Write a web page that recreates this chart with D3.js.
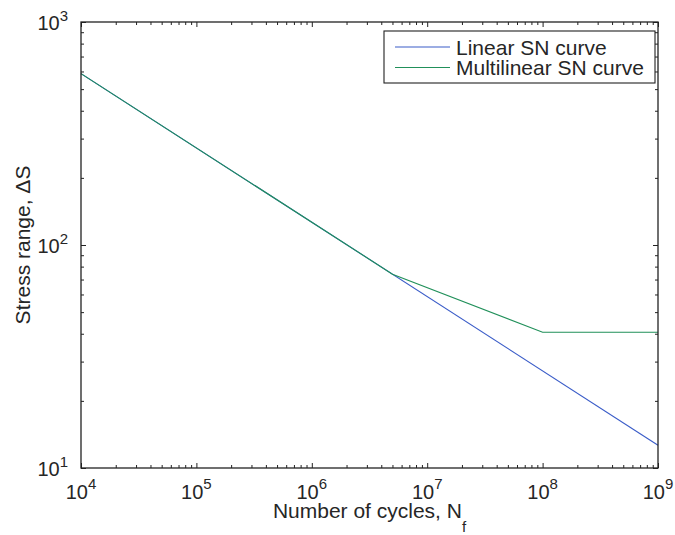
<!DOCTYPE html>
<html>
<head>
<meta charset="utf-8">
<script src="https://cdn.jsdelivr.net/npm/d3@7"></script>
<style>
  html, body { margin: 0; padding: 0; background: #fff; }
  svg { display: block; }
  text { font-family: "Liberation Sans", Arial, Helvetica, sans-serif; fill: #262626; }
</style>
</head>
<body>
<svg id="chart" width="675" height="535"></svg>
<script>
// ---- data ----
const linearN = [1e4, 1e9];
const linearS = [587, 12.65];
const multiN = [1e4, 5e6, 1e8, 1e9];
const multiS = [587, 74, 40.6, 40.6];
const xTickValues = [1e4, 1e5, 1e6, 1e7, 1e8, 1e9];
const xTickExps = ["4", "5", "6", "7", "8", "9"];
const yTickValues = [1e1, 1e2, 1e3];
const yTickExps = ["1", "2", "3"];
const seriesNames = ["Linear SN curve", "Multilinear SN curve"];
const seriesColors = ["#3a5cc8", "#21905a"];

// ---- layout ----
const L = 81, R = 658, T = 22, B = 468;
const svg = d3.select("#chart");
const x = d3.scaleLog().domain([1e4, 1e9]).range([L, R]);
const y = d3.scaleLog().domain([10, 1000]).range([B, T]);

function minorTicks(domain) {
  const out = [];
  const lo = Math.round(Math.log10(domain[0])), hi = Math.round(Math.log10(domain[1]));
  for (let k = lo; k < hi; k++) for (let m = 2; m <= 9; m++) out.push(m * Math.pow(10, k));
  return out;
}
const xMinor = minorTicks(x.domain());
const yMinor = minorTicks(y.domain());

const axisColor = "#222";
function styleAxis(g) {
  g.selectAll("path").remove();
  g.selectAll("line").attr("stroke", axisColor).attr("stroke-width", 1);
  g.selectAll("text").remove();
}
// bottom
svg.append("g").attr("transform", `translate(0,${B})`).call(d3.axisBottom(x).tickValues(xTickValues).tickSize(-5).tickFormat("")).call(styleAxis);
svg.append("g").attr("transform", `translate(0,${B})`).call(d3.axisBottom(x).tickValues(xMinor).tickSize(-3).tickFormat("")).call(styleAxis);
// top
svg.append("g").attr("transform", `translate(0,${T})`).call(d3.axisTop(x).tickValues(xTickValues).tickSize(-5).tickFormat("")).call(styleAxis);
svg.append("g").attr("transform", `translate(0,${T})`).call(d3.axisTop(x).tickValues(xMinor).tickSize(-3).tickFormat("")).call(styleAxis);
// left
svg.append("g").attr("transform", `translate(${L},0)`).call(d3.axisLeft(y).tickValues(yTickValues).tickSize(-5).tickFormat("")).call(styleAxis);
svg.append("g").attr("transform", `translate(${L},0)`).call(d3.axisLeft(y).tickValues(yMinor).tickSize(-3).tickFormat("")).call(styleAxis);
// right
svg.append("g").attr("transform", `translate(${R},0)`).call(d3.axisRight(y).tickValues(yTickValues).tickSize(-5).tickFormat("")).call(styleAxis);
svg.append("g").attr("transform", `translate(${R},0)`).call(d3.axisRight(y).tickValues(yMinor).tickSize(-3).tickFormat("")).call(styleAxis);

// series
const line = d3.line().x(d => x(d[0])).y(d => y(d[1]));
const seriesData = [
  linearN.map((n, i) => [n, linearS[i]]),
  multiN.map((n, i) => [n, multiS[i]])
];
seriesData.forEach((d, i) => {
  svg.append("path").datum(d).attr("d", line)
    .attr("fill", "none").attr("stroke", seriesColors[i]).attr("stroke-width", 1.1);
});

// frame
svg.append("rect").attr("x", L).attr("y", T).attr("width", R - L).attr("height", B - T)
  .attr("fill", "none").attr("stroke", axisColor).attr("stroke-width", 1.3);

// tick labels
const tickFont = 20, supFont = 15;
xTickValues.forEach((v, i) => {
  const t = svg.append("text").attr("x", x(v)).attr("y", 499).attr("text-anchor", "middle")
    .attr("font-size", tickFont);
  t.append("tspan").text("10");
  t.append("tspan").attr("font-size", supFont).attr("dy", -10).text(xTickExps[i]);
});
yTickValues.forEach((v, i) => {
  const t = svg.append("text").attr("x", 68).attr("y", y(v) + 8).attr("text-anchor", "end")
    .attr("font-size", tickFont);
  t.append("tspan").text("10");
  t.append("tspan").attr("font-size", supFont).attr("dy", -9).text(yTickExps[i]);
});

// axis labels
const xl = svg.append("text").attr("x", (L + R) / 2).attr("y", 518).attr("text-anchor", "middle")
  .attr("font-size", 21);
xl.append("tspan").text("Number of cycles, N");
xl.append("tspan").attr("font-size", 15).attr("dy", 14).text("f");

svg.append("text").attr("transform", `translate(30,${(T + B) / 2}) rotate(-90)`)
  .attr("text-anchor", "middle").attr("font-size", 21).text("Stress range, \u0394S");

// legend
const lg = svg.append("g");
lg.append("rect").attr("x", 384).attr("y", 31).attr("width", 271).attr("height", 52)
  .attr("fill", "#fff").attr("stroke", axisColor).attr("stroke-width", 1.1);
seriesNames.forEach((name, i) => {
  const cy = 47 + i * 20.5;
  lg.append("line").attr("x1", 395).attr("x2", 450).attr("y1", cy).attr("y2", cy)
    .attr("stroke", seriesColors[i]).attr("stroke-width", 1.1);
  lg.append("text").attr("x", 456).attr("y", cy + 7.5).attr("font-size", 21).text(name);
});
</script>
</body>
</html>
